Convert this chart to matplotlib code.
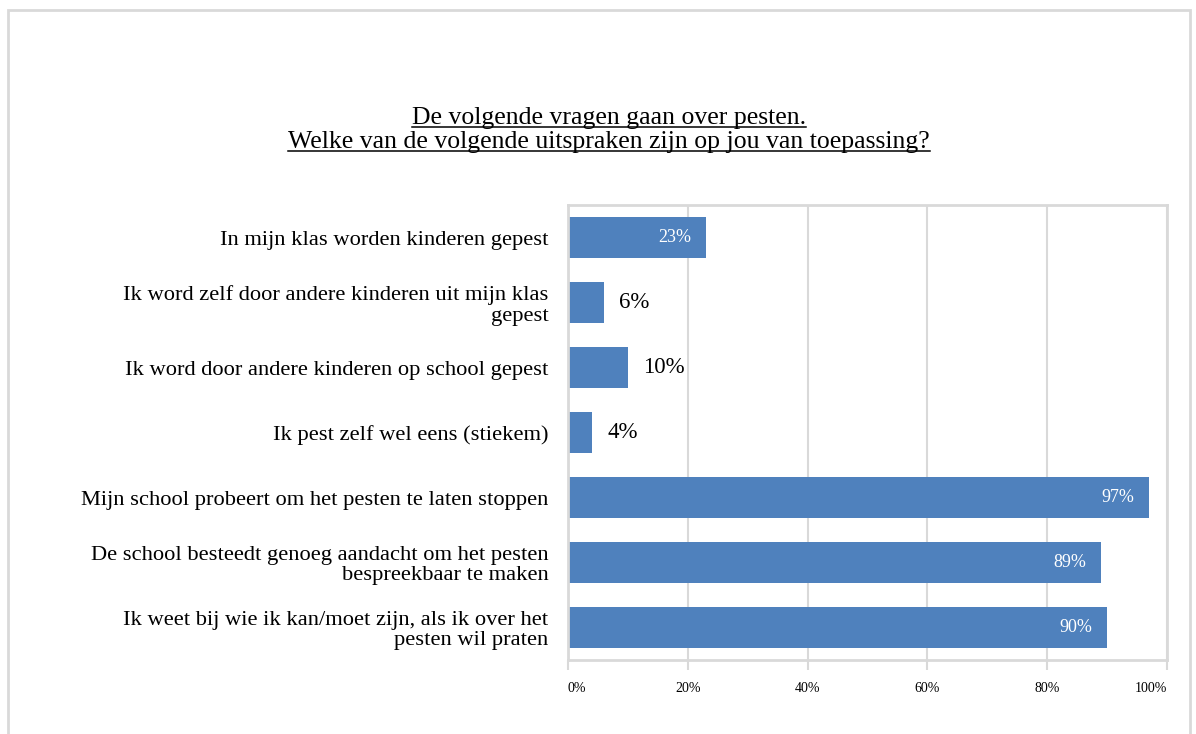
import numpy as np
import matplotlib
matplotlib.use("Agg")
import matplotlib.pyplot as plt
from matplotlib.patches import Rectangle
from matplotlib.lines import Line2D

plt.rcParams['font.family'] = ['Liberation Serif', 'DejaVu Serif']

# antwoorden per uitspraak (percentage leerlingen)
categorieen = [
    "In mijn klas worden kinderen gepest",
    "Ik word zelf door andere kinderen uit mijn klas\ngepest",
    "Ik word door andere kinderen op school gepest",
    "Ik pest zelf wel eens (stiekem)",
    "Mijn school probeert om het pesten te laten stoppen",
    "De school besteedt genoeg aandacht om het pesten\nbespreekbaar te maken",
    "Ik weet bij wie ik kan/moet zijn, als ik over het\npesten wil praten",
]
percentages = [23, 6, 10, 4, 97, 89, 90]
x_ticks = [0, 20, 40, 60, 80, 100]
x_tick_labels = ["0%", "20%", "40%", "60%", "80%", "100%"]
titel_regels = [
    "De volgende vragen gaan over pesten.",
    "Welke van de volgende uitspraken zijn op jou van toepassing?",
]

blauw = "#4F81BD"
grijs = "#d9d9d9"

fig = plt.figure(figsize=(11.96, 7.34), dpi=100)
fig.patch.set_facecolor("white")

# kader rond de grafiek
fig.patches.append(Rectangle((8 / 1196, -0.2), 1182 / 1196, 1.2 - 10 / 734,
                             transform=fig.transFigure, fill=False,
                             edgecolor=grijs, lw=2))

ax = fig.add_axes([568 / 1196, 1 - 660 / 734, 599 / 1196, 455 / 734])

y = np.arange(len(categorieen))
ax.barh(y, percentages, height=0.63, color=blauw, zorder=2)
ax.set_ylim(len(categorieen) - 0.5, -0.5)
ax.set_xlim(0, 100)

ax.set_yticks(y)
ax.set_yticklabels(categorieen, fontsize=16.2, multialignment="right", linespacing=1.08)
ax.tick_params(axis="y", length=0, pad=14)

ax.set_xticks(x_ticks)
ax.set_xticklabels(x_tick_labels, fontsize=10)
ax.tick_params(axis="x", length=7, width=1.5, color=grijs, pad=9)
tl = ax.get_xticklabels()
tl[0].set_horizontalalignment("left")
tl[-1].set_horizontalalignment("right")

ax.xaxis.grid(True, color=grijs, lw=1.5, zorder=0)
ax.set_axisbelow(True)
for side in ["top", "bottom", "left", "right"]:
    ax.spines[side].set_color(grijs)
    ax.spines[side].set_linewidth(2)

# waardelabels: binnen de balk wit, buiten de balk zwart
for yi, v in zip(y, percentages):
    if v >= 20:
        ax.annotate(f"{v}%", (v, yi), xytext=(-10.5, 0), textcoords="offset points",
                    ha="right", va="center", color="white", fontsize=13)
    else:
        ax.annotate(f"{v}%", (v, yi), xytext=(11, 0), textcoords="offset points",
                    ha="left", va="center", color="black", fontsize=16.5,
                    bbox=dict(boxstyle="square,pad=0.1", fc="white", ec="none"))

# titel, twee regels onderstreept
titel_x = 609 / 1196
basislijnen = [1 - 124 / 734, 1 - 148 / 734]
titels = []
for regel, yb in zip(titel_regels, basislijnen):
    titels.append(fig.text(titel_x, yb, regel, ha="center", va="baseline", fontsize=18.5))

fig.canvas.draw()
renderer = fig.canvas.get_renderer()
for t, yb in zip(titels, basislijnen):
    bb = t.get_window_extent(renderer).transformed(fig.transFigure.inverted())
    yl = yb - 3 / 734
    fig.lines.append(Line2D([bb.x0, bb.x1], [yl, yl], transform=fig.transFigure,
                            color="black", lw=1.1))

fig.savefig("out.png", dpi=100, facecolor="white")
